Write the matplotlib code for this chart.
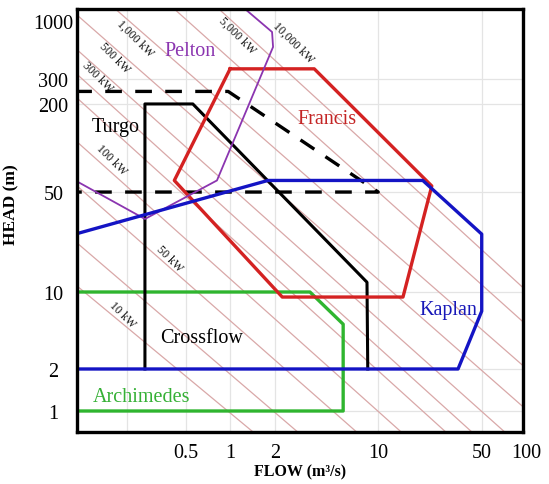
import numpy as np
import matplotlib
matplotlib.use("Agg")
from matplotlib import pyplot as plt
from matplotlib.scale import FuncScale
import matplotlib.transforms as mtransforms

plt.rcParams['font.family'] = ['Liberation Serif', 'DejaVu Serif']

# turbine envelopes: flow (m3/s) and head (m)
pelton_q = [1.22, 1.92, 1.95, 0.815, 0.266, 0.09]
pelton_h = [1250, 796, 583, 60, 32.4, 60]

turgo_q = [0.266, 0.266, 0.56, 8.4, 8.5]
turgo_h = [2, 200, 200, 11.7, 2]

turgo_range_q = [0.09, 0.97, 10, 0.09]
turgo_range_h = [245, 245, 50, 50]

francis_q = [1.0, 3.7, 23, 14.7, 2.25, 0.42, 1.0]
francis_h = [370, 370, 55, 9, 9, 60, 370]

kaplan_q = [0.09, 1.8, 20, 50, 50, 34.6, 0.09]
kaplan_h = [25.4, 60, 60, 25.4, 6.7, 2, 2]

archimedes_q = [0.09, 3.46, 5.8, 5.8, 0.09]
archimedes_h = [10, 10, 5.1, 1, 1]

# constant power lines (kW)
power_kw = [10, 20, 50, 100, 200, 300, 500, 1000, 2000, 5000, 10000]
power_labels = ['10 kW', '50 kW', '100 kW', '300 kW', '500 kW',
                '1,000 kW', '5,000 kW', '10,000 kW']
power_label_q = [0.186, 0.387, 0.157, 0.128, 0.167, 0.228, 1.11, 2.66]
power_label_h = [6.3, 17.3, 84, 319, 474, 703, 748, 646]

turbine_names = ['Pelton', 'Turgo', 'Francis', 'Kaplan', 'Crossflow', 'Archimedes']
name_q = [0.54, 0.17, 4.5, 29.6, 0.646, 0.254]
name_h = [540, 141, 158, 7.0, 3.9, 1.28]

x_ticks = [0.2, 0.5, 1, 2, 10, 50]
x_labels = ['', '0.5', '1', '2', '10', '50']
y_ticks = [1, 2, 10, 50, 200, 300, 1000]
y_labels = ['1', '2', '10', '50', '200', '300', '1000']

# head axis: log spacing, stretched per decade band
_kn_log = np.array([-8.0, 0.0, np.log10(2), 1.0, np.log10(50), np.log10(200),
                    np.log10(300), 3.0, 12.0])
_kn_pos = np.array([-7.853, 0.1469, 0.4406, 0.979, 1.678, 2.294, 2.469, 2.874, 11.874])


def head_fwd(h):
    h = np.clip(np.asarray(h, dtype=float), 1e-9, None)
    return np.interp(np.log10(h), _kn_log, _kn_pos)


def head_inv(u):
    return 10 ** np.interp(np.asarray(u, dtype=float), _kn_pos, _kn_log)


fig = plt.figure(figsize=(5.49, 4.85), dpi=100)
ax = fig.add_axes([77 / 549, 1 - 433 / 485, 446 / 549, 423 / 485])
ax.set_xscale('log')
ax.set_yscale(FuncScale(ax, (head_fwd, head_inv)))
ax.set_xlim(0.0925, 95)
ax.set_ylim(float(head_inv(0.0)), float(head_inv(2.958)))

ax.set_xticks(x_ticks)
ax.set_xticklabels(x_labels)
ax.xaxis.set_minor_locator(plt.NullLocator())
ax.set_yticks(y_ticks)
ax.set_yticklabels(y_labels)
ax.yaxis.set_minor_locator(plt.NullLocator())
ax.tick_params(axis='both', length=0, labelsize=14.5)
ax.tick_params(axis='x', pad=8)
ax.tick_params(axis='y', pad=17)
for t in ax.get_yticklabels():
    t.set_horizontalalignment('center')
ax.grid(True, color='#e4e4e4', lw=0.9)
ax.yaxis.get_gridlines()[-1].set_visible(False)  # no grid at 1000
ax.set_axisbelow(True)

# "100" sits just past the right edge
trans = mtransforms.blended_transform_factory(ax.transData, ax.transAxes)
ax.text(100, -8 * 100 / 72 / 423, '100', transform=trans, ha='center', va='top',
        fontsize=14.5, clip_on=False)

# power lines Q*H = P / 9.81
q0, q1 = ax.get_xlim()
h0, h1 = ax.get_ylim()
for p in power_kw:
    c = p / 9.81
    qa = max(q0, c / h1)
    qb = min(q1, c / h0)
    if qa < qb:
        ax.plot([qa, qb], [c / qa, c / qb], color='#d9a8a8', lw=0.9, zorder=1)

for lab, q, h in zip(power_labels, power_label_q, power_label_h):
    ax.text(q, h, lab, rotation=-45, rotation_mode='anchor', ha='center',
            va='center', fontsize=8.5, color='#111111')

ax.plot(archimedes_q, archimedes_h, color='#2fb52f', lw=2.4, zorder=3)
ax.plot(turgo_q, turgo_h, color='black', lw=2.2, zorder=3)
ax.plot(turgo_range_q, turgo_range_h, color='black', lw=2.4, ls=(0, (5, 4)), zorder=3)
ax.plot(francis_q, francis_h, color='#d42222', lw=2.4, zorder=3)
ax.plot(pelton_q, pelton_h, color='#8b35b0', lw=1.3, zorder=3)
ax.plot(kaplan_q, kaplan_h, color='#1414c4', lw=2.4, zorder=4)

name_colors = ['#8b35b0', 'black', '#c42525', '#1818b8', 'black', '#35b035']
for name, q, h, col in zip(turbine_names, name_q, name_h, name_colors):
    ax.text(q, h, name, ha='center', va='center', fontsize=14.5, color=col, zorder=5)

for s in ax.spines.values():
    s.set_linewidth(2.4)
    s.set_zorder(6)

ax.set_xlabel('FLOW (m³/s)', fontsize=11.5, fontweight='bold', labelpad=1)
ax.set_ylabel('HEAD (m)', fontsize=12.5, fontweight='bold', va='center')
ax.yaxis.set_label_coords(-66 / 446, 0.539)

fig.savefig('out.png', dpi=100)
